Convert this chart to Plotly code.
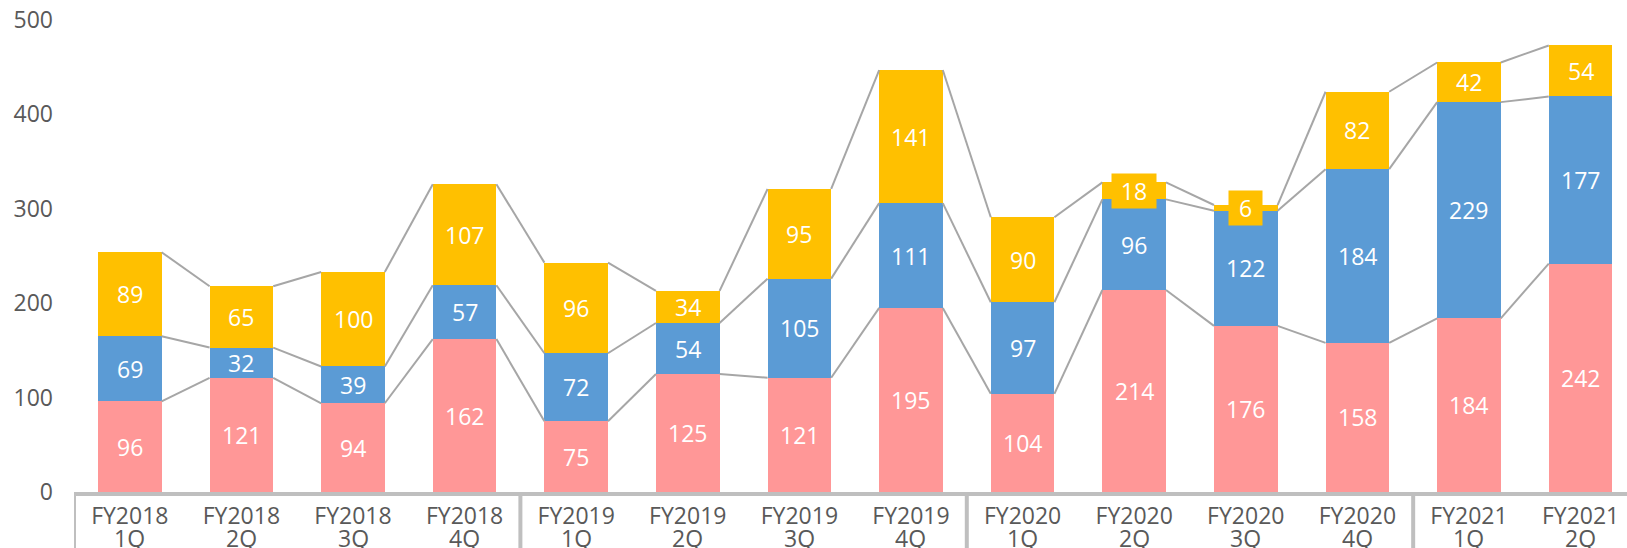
import plotly.graph_objects as go

years = ["FY2018"] * 4 + ["FY2019"] * 4 + ["FY2020"] * 4 + ["FY2021"] * 2
quarters = ["1Q", "2Q", "3Q", "4Q"] * 3 + ["1Q", "2Q"]
red_vals = [96, 121, 94, 162, 75, 125, 121, 195, 104, 214, 176, 158, 184, 242]
blue_vals = [69, 32, 39, 57, 72, 54, 105, 111, 97, 96, 122, 184, 229, 177]
yellow_vals = [89, 65, 100, 107, 96, 34, 95, 141, 90, 18, 6, 82, 42, 54]
y_ticks = [0, 100, 200, 300, 400, 500]

RED = "#FF9797"
BLUE = "#5B9BD5"
YELLOW = "#FFC000"
CONN = "#A6A6A6"
AXIS = "#BFBFBF"
TXT = "#595959"
FONT = "Open Sans"
FS = 23
BW = 0.57

n = len(red_vals)
xs = list(range(n))

fig = go.Figure()
series = [(red_vals, RED), (blue_vals, BLUE), (yellow_vals, YELLOW)]
for vals, col in series:
    fig.add_trace(go.Bar(x=xs, y=vals, width=BW, marker=dict(color=col, line=dict(width=0)),
                         showlegend=False, hoverinfo="y"))

# cumulative levels
cum = []
run = [0] * n
for vals, _ in series:
    run = [a + b for a, b in zip(run, vals)]
    cum.append(run[:])

# connector lines
for level in cum:
    lx, ly = [], []
    for i in range(n - 1):
        lx += [i + BW / 2, i + 1 - BW / 2, None]
        ly += [level[i], level[i + 1], None]
    fig.add_trace(go.Scatter(x=lx, y=ly, mode="lines", line=dict(color=CONN, width=2),
                             showlegend=False, hoverinfo="skip"))

# labels
base = [0] * n
for (vals, col), level in zip(series, cum):
    for i in range(n):
        mid = base[i] + vals[i] / 2
        small = vals[i] < 25
        ann = dict(x=i, y=mid, text=str(vals[i]), showarrow=False,
                   font=dict(family=FONT, size=FS, color="white"))
        if small:
            ann.update(bgcolor=col, width=42 if vals[i] >= 10 else 31, height=32)
        fig.add_annotation(**ann)
    base = level[:]

# second line of category labels (quarter)
for i, q in enumerate(quarters):
    fig.add_annotation(x=i, xref="x", y=0, yref="paper", yanchor="middle", yshift=-46,
                       height=22, text=q, showarrow=False,
                       font=dict(family=FONT, size=FS, color=TXT))

# year group separators
bounds = [-0.5] + [i - 0.5 for i in range(1, n) if years[i] != years[i - 1]]
for b in bounds:
    fig.add_shape(type="line", xref="x", yref="paper", x0=b, x1=b, y0=0, y1=-0.14,
                  line=dict(color=AXIS, width=4))

fig.update_layout(
    width=1627, height=548,
    margin=dict(l=74, r=0, t=20, b=56),
    plot_bgcolor="white", paper_bgcolor="white",
    barmode="stack",
    font=dict(family=FONT, size=FS, color=TXT),
    xaxis=dict(range=[-0.5, 13.416], tickvals=xs, ticktext=years, showgrid=False,
               zeroline=False, showline=True, linecolor=AXIS, linewidth=4, ticks="",
               automargin=False, ticklabelstandoff=0,
               tickfont=dict(family=FONT, size=FS, color=TXT)),
    yaxis=dict(range=[0, 500], tickvals=y_ticks, showgrid=False, zeroline=False,
               showline=False, ticks="", ticklabelstandoff=20, automargin=False,
               tickfont=dict(family=FONT, size=FS, color=TXT)),
)

fig.write_html("out.html", config={"displayModeBar": False},
               post_script="document.body.style.margin='0';document.body.style.overflow='hidden';")
